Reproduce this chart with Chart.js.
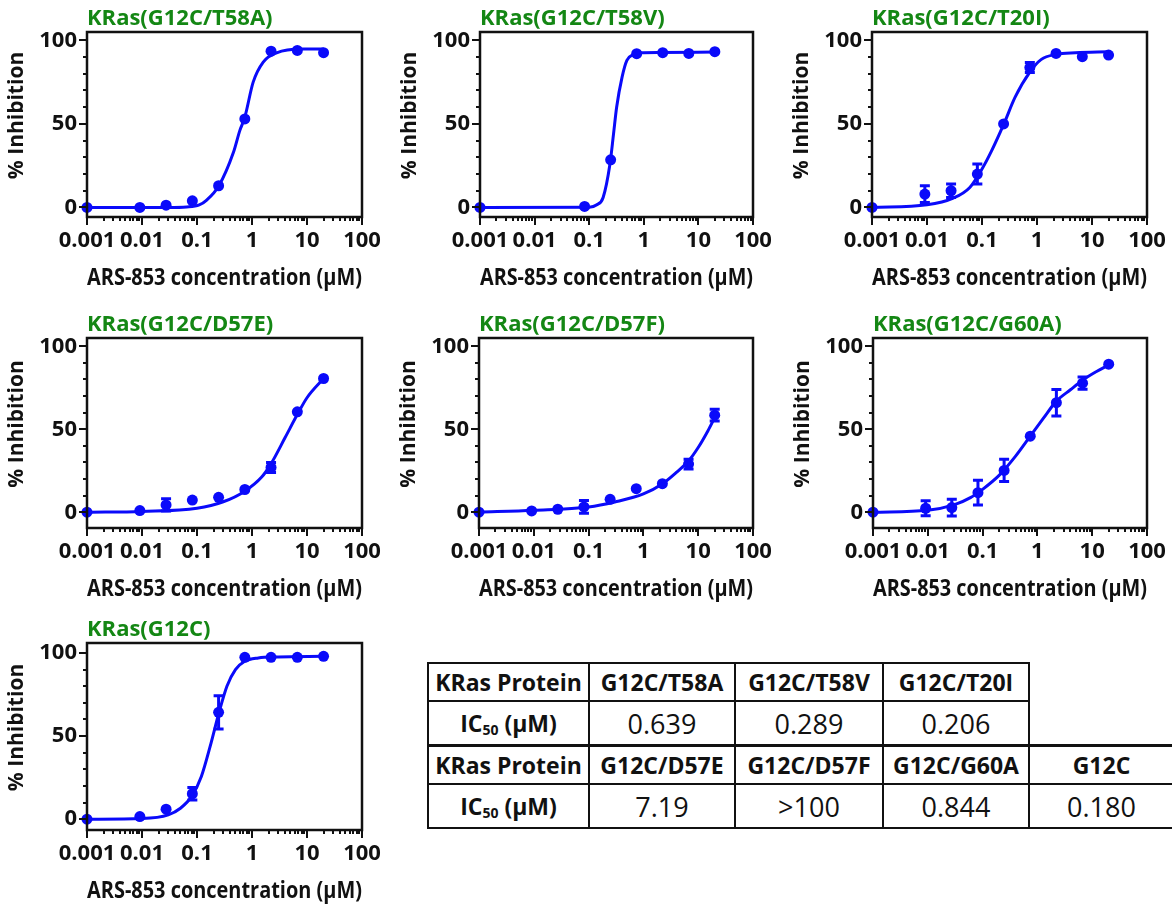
<!DOCTYPE html>
<html>
<head>
<meta charset="utf-8">
<script src="https://cdn.jsdelivr.net/npm/chart.js@4.4.1/dist/chart.umd.min.js"></script>
<style>
  body { margin: 0; background: #fff; width: 1172px; height: 905px; overflow: hidden; position: relative; font-family: 'Open Sans', sans-serif; }
  canvas { position: absolute; }
  table { position: absolute; left: 427px; top: 662px; border-collapse: collapse; color: #111; }
  td { border: 2px solid #111; text-align: center; padding: 0; white-space: nowrap; }
  td.h { font-weight: 700; font-size: 23px; height: 36px; }
  td.v { font-size: 27px; height: 42px; }
  td.lab { font-weight: 700; font-size: 23px; }
  td.none { border: none; }
  tr.split td { border-top: 3px solid #111; }
  sub { font-size: 14px; vertical-align: -3px; }
</style>
</head>
<body>

<script>
//Concentrations of ARS-853 used in every panel (0.001 stands for the no-drug control)
var conc = [0.001, 0.00914, 0.0274, 0.0823, 0.247, 0.741, 2.22, 6.67, 20];
var xTickValues = [0.001, 0.01, 0.1, 1, 10, 100];
var yTickValues = [0, 50, 100];
var yMinorTicks = [10, 20, 30, 40, 60, 70, 80, 90];

//KRas(G12C/T58A)
var t58aMean = [0, 0, 1.4, 4, 13, 53, 93.5, 94, 92.6];
var t58aErr = [0, 0, 0, 0, 0, 0, 0, 0, 0];
var t58aFitX = [0.001, 0.03, 0.065, 0.11, 0.15, 0.25, 0.46, 0.6, 0.74, 1.05, 1.6, 2.8, 8, 20];
var t58aFitY = [0, 0, 0.3, 1.5, 4.4, 13, 33, 46, 54, 75, 87, 92.5, 94.8, 94.8];

//KRas(G12C/T58V)
var t58vMean = [0, null, null, 0.6, 28.5, 92, 92.6, 92.2, 93.2];
var t58vErr = [0, 0, 0, 0, 0, 0, 0, 0, 0];
var t58vFitX = [0.001, 0.1, 0.138, 0.18, 0.24, 0.279, 0.318, 0.4, 0.49, 0.65, 0.86, 2, 20];
var t58vFitY = [0, 0.2, 1.6, 6, 26, 44, 60, 78, 88, 91.6, 92.6, 92.8, 93];

//KRas(G12C/T20I)
var t20iMean = [0, 8, 10, 20, 50, 83.7, 92.2, 90.2, 91.2];
var t20iErr = [0, 5, 4, 6, 0, 3, 0, 0, 0];
var t20iFitX = [0.001, 0.01, 0.03, 0.06, 0.1, 0.15, 0.25, 0.4, 0.74, 1.2, 2.2, 5, 20];
var t20iFitY = [0, 1.6, 5.6, 12, 23, 34, 50, 66, 81, 88.6, 91.6, 92.6, 93.2];

//KRas(G12C/D57E)
var d57eMean = [0, 1, 4.4, 7.3, 9, 13.7, 27, 60.5, 80.6];
var d57eErr = [0, 0, 3.7, 0, 0, 0, 3, 0, 0];
var d57eFitX = [0.001, 0.01, 0.1, 0.3, 0.74, 1.5, 2.2, 4, 6.7, 10, 20];
var d57eFitY = [0, 0.5, 2.4, 6.3, 12.7, 21.2, 29, 45, 59, 69, 80.6];

//KRas(G12C/D57F)
var d57fMean = [0, 0.8, 1.8, 3.2, 7.8, 14.2, 17.2, 29, 58.5];
var d57fErr = [0, 0, 0, 3.8, 0, 0, 0, 3, 3.5];
var d57fFitX = [0.001, 0.01, 0.1, 0.3, 1, 2.2, 4, 6.7, 10, 15, 20];
var d57fFitY = [0, 1.2, 3.2, 6.2, 11, 17, 24, 31, 39, 49, 57];

//KRas(G12C/G60A)
var g60aMean = [0, 2.4, 2.8, 11.8, 25.2, 45.8, 66, 77.8, 89.2];
var g60aErr = [0, 4.5, 5, 7.5, 6.7, 0, 8, 3.7, 0];
var g60aFitX = [0.001, 0.01, 0.03, 0.06, 0.1, 0.2, 0.4, 0.74, 1.3, 2.2, 4, 6.7, 12, 20];
var g60aFitY = [0, 1.2, 4.4, 8.8, 13.8, 22.2, 33.8, 45.8, 56.8, 66.8, 73.8, 79.6, 84.8, 88.8];

//KRas(G12C)
var g12cMean = [0, 1.6, 6, 15.3, 64.3, 97.4, 97.4, 97.4, 98];
var g12cErr = [0, 0, 0, 3.7, 10, 0, 0, 0, 0];
var g12cFitX = [0.001, 0.01, 0.03, 0.05, 0.08, 0.12, 0.18, 0.25, 0.35, 0.5, 0.74, 1.3, 3, 20];
var g12cFitY = [0, 0.4, 2.6, 6.6, 13.7, 25.7, 45.8, 63.9, 80, 90, 95, 97, 97.6, 98];

//IC50 table
var tableProteinsTop = ['G12C/T58A', 'G12C/T58V', 'G12C/T20I'];
var tableIC50Top = ['0.639', '0.289', '0.206'];
var tableProteinsBottom = ['G12C/D57E', 'G12C/D57F', 'G12C/G60A', 'G12C'];
var tableIC50Bottom = ['7.19', '>100', '0.844', '0.180'];

var BLUE = 'rgb(10,10,250)';
var GREEN = 'rgb(20,135,20)';
var INK = '#111';

Chart.defaults.font.family = "'Open Sans', sans-serif";
Chart.defaults.color = INK;

var panels = [
    {title: 'KRas(G12C/T58A)', left: 87, right: 362, top: 32, bottom: 217, yMin: -5.7, yMax: 105, mean: t58aMean, err: t58aErr, fitX: t58aFitX, fitY: t58aFitY},
    {title: 'KRas(G12C/T58V)', left: 480, right: 753, top: 32, bottom: 217, yMin: -5.7, yMax: 105, mean: t58vMean, err: t58vErr, fitX: t58vFitX, fitY: t58vFitY},
    {title: 'KRas(G12C/T20I)', left: 872, right: 1147, top: 32, bottom: 217, yMin: -5.7, yMax: 105, mean: t20iMean, err: t20iErr, fitX: t20iFitX, fitY: t20iFitY},
    {title: 'KRas(G12C/D57E)', left: 87, right: 362, top: 338, bottom: 528, yMin: -9.5, yMax: 105, mean: d57eMean, err: d57eErr, fitX: d57eFitX, fitY: d57eFitY},
    {title: 'KRas(G12C/D57F)', left: 479, right: 753, top: 338, bottom: 528, yMin: -9.5, yMax: 105, mean: d57fMean, err: d57fErr, fitX: d57fFitX, fitY: d57fFitY},
    {title: 'KRas(G12C/G60A)', left: 873, right: 1147, top: 338, bottom: 528, yMin: -9.5, yMax: 105, mean: g60aMean, err: g60aErr, fitX: g60aFitX, fitY: g60aFitY},
    {title: 'KRas(G12C)', left: 87, right: 362, top: 643, bottom: 830, yMin: -6.5, yMax: 106, mean: g12cMean, err: g12cErr, fitX: g12cFitX, fitY: g12cFitY}
];

//Frame, tick marks, error bars, y title and green title drawn through the chart's own scales
var panelDecor = {
    id: 'panelDecor',
    afterDatasetsDraw: function(chart, args, opts) {
        var ctx = chart.ctx;
        var area = chart.chartArea;
        var xs = chart.scales.x;
        var ys = chart.scales.y;
        ctx.save();
        ctx.strokeStyle = INK;
        ctx.lineWidth = 2.5;
        ctx.strokeRect(area.left, area.top, area.right - area.left, area.bottom - area.top);

        ctx.lineWidth = 2;
        ctx.beginPath();
        for (i = 0; i < yTickValues.length; i++) {
            var y = Math.round(ys.getPixelForValue(yTickValues[i]));
            ctx.moveTo(area.left, y);
            ctx.lineTo(area.left - 8, y);
        }
        for (i = 0; i < yMinorTicks.length; i++) {
            var y2 = Math.round(ys.getPixelForValue(yMinorTicks[i]));
            ctx.moveTo(area.left, y2);
            ctx.lineTo(area.left - 4, y2);
        }
        for (i = 0; i < xTickValues.length; i++) {
            var x = Math.round(xs.getPixelForValue(xTickValues[i]));
            ctx.moveTo(x, area.bottom);
            ctx.lineTo(x, area.bottom + 8);
            if (i < xTickValues.length - 1) {
                for (k = 2; k <= 9; k++) {
                    var xm = Math.round(xs.getPixelForValue(xTickValues[i] * k));
                    ctx.moveTo(xm, area.bottom);
                    ctx.lineTo(xm, area.bottom + 4);
                }
            }
        }
        ctx.stroke();

        //error bars
        ctx.strokeStyle = BLUE;
        ctx.lineWidth = 3;
        ctx.beginPath();
        for (i = 0; i < conc.length; i++) {
            if (opts.mean[i] == null || !opts.err[i]) continue;
            var px = xs.getPixelForValue(conc[i]);
            var yt = ys.getPixelForValue(opts.mean[i] + opts.err[i]);
            var yb = ys.getPixelForValue(opts.mean[i] - opts.err[i]);
            ctx.moveTo(px, yt);
            ctx.lineTo(px, yb);
            ctx.moveTo(px - 5, yt);
            ctx.lineTo(px + 5, yt);
            ctx.moveTo(px - 5, yb);
            ctx.lineTo(px + 5, yb);
        }
        ctx.stroke();

        //y axis title
        ctx.save();
        ctx.translate(area.left - 70, (area.top + area.bottom) / 2 - 9);
        ctx.rotate(-Math.PI / 2);
        ctx.fillStyle = INK;
        ctx.font = "bold 21px 'Open Sans'";
        ctx.textAlign = 'center';
        ctx.textBaseline = 'middle';
        ctx.fillText('% Inhibition', 0, 0);
        ctx.restore();

        ctx.fillStyle = GREEN;
        ctx.font = "bold 22px 'Open Sans'";
        ctx.textAlign = 'left';
        ctx.textBaseline = 'alphabetic';
        ctx.fillText(opts.title, area.left, area.top - 7);
        ctx.restore();
    }
};

function makePanel(p) {
    var canvas = document.createElement('canvas');
    var cLeft = p.left - 87;
    var cTop = p.top - 32;
    var w = p.right - cLeft + 30;
    var h = p.bottom - cTop + 78;
    canvas.width = w;
    canvas.height = h;
    canvas.style.left = cLeft + 'px';
    canvas.style.top = cTop + 'px';
    canvas.style.width = w + 'px';
    canvas.style.height = h + 'px';
    document.body.appendChild(canvas);

    var points = [];
    for (i = 0; i < conc.length; i++) {
        if (p.mean[i] != null) points.push({x: conc[i], y: p.mean[i]});
    }
    var fit = [];
    for (i = 0; i < p.fitX.length; i++) {
        fit.push({x: p.fitX[i], y: p.fitY[i]});
    }

    new Chart(canvas, {
        type: 'scatter',
        data: {
            datasets: [
                {
                    data: fit,
                    showLine: true,
                    borderColor: BLUE,
                    borderWidth: 3,
                    pointRadius: 0,
                    cubicInterpolationMode: 'monotone',
                    clip: false
                },
                {
                    data: points,
                    backgroundColor: BLUE,
                    borderColor: BLUE,
                    pointRadius: 5.5,
                    borderWidth: 0,
                    clip: false
                }
            ]
        },
        options: {
            responsive: false,
            animation: false,
            devicePixelRatio: 1,
            layout: {padding: {left: 0, top: 32, right: 30, bottom: 0}},
            plugins: {
                legend: {display: false},
                tooltip: {enabled: false},
                panelDecor: {title: p.title, mean: p.mean, err: p.err}
            },
            scales: {
                x: {
                    type: 'logarithmic',
                    min: 0.001,
                    max: 100,
                    grid: {display: false, drawTicks: false},
                    border: {display: false},
                    afterBuildTicks: function(axis) {
                        axis.ticks = xTickValues.map(function(v) { return {value: v}; });
                    },
                    afterFit: function(axis) {
                        axis.height = 78;
                        axis.paddingLeft = 0;
                        axis.paddingRight = 0;
                    },
                    ticks: {
                        autoSkip: false,
                        maxRotation: 0,
                        padding: 11,
                        color: INK,
                        font: {size: 22, weight: 'bold'},
                        callback: function(v) { return String(v); }
                    },
                    title: {
                        display: true,
                        text: 'ARS-853 concentration (µM)',
                        color: INK,
                        font: {size: 22.5, weight: 'bold'},
                        padding: {top: 0, bottom: 3}
                    }
                },
                y: {
                    min: p.yMin,
                    max: p.yMax,
                    grid: {display: false, drawTicks: false},
                    border: {display: false},
                    afterBuildTicks: function(axis) {
                        axis.ticks = yTickValues.map(function(v) { return {value: v}; });
                    },
                    afterFit: function(axis) {
                        axis.width = 87;
                        axis.paddingTop = 0;
                        axis.paddingBottom = 0;
                    },
                    ticks: {
                        padding: 10,
                        color: INK,
                        font: {size: 22, weight: 'bold'}
                    },
                    title: {display: false}
                }
            }
        },
        plugins: [panelDecor]
    });
}

for (var n = 0; n < panels.length; n++) {
    makePanel(panels[n]);
}

//IC50 table
function buildTable() {
    var t = document.createElement('table');
    var widths = [161, 146, 148, 146, 145];
    var html = '<colgroup>';
    for (i = 0; i < widths.length; i++) html += '<col style="width:' + widths[i] + 'px">';
    html += '</colgroup>';
    html += '<tr><td class="h">KRas Protein</td>';
    for (i = 0; i < tableProteinsTop.length; i++) html += '<td class="h">' + tableProteinsTop[i] + '</td>';
    html += '<td class="none"></td></tr>';
    html += '<tr><td class="lab v">IC<sub>50</sub> (µM)</td>';
    for (i = 0; i < tableIC50Top.length; i++) html += '<td class="v">' + tableIC50Top[i].replace('>', '&gt;') + '</td>';
    html += '<td class="none"></td></tr>';
    html += '<tr class="split"><td class="h">KRas Protein</td>';
    for (i = 0; i < tableProteinsBottom.length; i++) html += '<td class="h">' + tableProteinsBottom[i] + '</td>';
    html += '</tr>';
    html += '<tr><td class="lab v">IC<sub>50</sub> (µM)</td>';
    for (i = 0; i < tableIC50Bottom.length; i++) html += '<td class="v">' + tableIC50Bottom[i].replace('>', '&gt;') + '</td>';
    html += '</tr>';
    t.innerHTML = html;
    t.style.width = '746px';
    t.style.tableLayout = 'fixed';
    document.body.appendChild(t);
}
buildTable();
</script>
</body>
</html>
